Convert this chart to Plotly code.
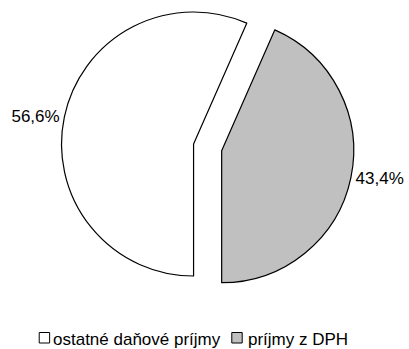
import plotly.graph_objects as go

# Share of tax revenue
categories = ["ostatné daňové príjmy", "príjmy z DPH"]
shares = [56.6, 43.4]
colors = ["#ffffff", "#c0c0c0"]

W, H = 409, 349
R = 133                      # pie radius in px
CENTER = (195, 144)          # centre of the main pie (px, from top-left)
OFFSET = (28.3, 6.7)         # displacement of the exploded VAT slice (px)
FONT = dict(family="Liberation Sans, Arial, sans-serif", size=17, color="#000000")


def domain(cx, cy):
    return dict(
        x=[(cx - R) / W, (cx + R) / W],
        y=[1 - (cy + R) / H, 1 - (cy - R) / H],
    )


fig = go.Figure()

# one trace per slice so the VAT slice can be shifted out of the pie
for i in range(len(categories)):
    cx = CENTER[0] + (OFFSET[0] if i == 1 else 0)
    cy = CENTER[1] + (OFFSET[1] if i == 1 else 0)
    fills = [colors[k] if k == i else "rgba(0,0,0,0)" for k in range(len(categories))]
    widths = [1.2 if k == i else 0 for k in range(len(categories))]
    fig.add_trace(go.Pie(
        labels=categories,
        values=shares,
        sort=False,
        direction="clockwise",
        rotation=180,
        domain=domain(cx, cy),
        marker=dict(colors=fills, line=dict(color="#000000", width=widths)),
        texttemplate=["%{percent:.1%}" if k == i else "" for k in range(len(categories))],
        textposition=["outside" if k == i else "none" for k in range(len(categories))],
        outsidetextfont=FONT,
        hoverinfo="skip",
        showlegend=False,
    ))

# legend drawn below the pie
LEG_Y = 339  # vertical middle of the legend row (px from top)
legend_items = [(39.5, 52, categories[0], colors[0]), (233.5, 249, categories[1], colors[1])]
shapes, annotations = [], []
for sx, tx, name, col in legend_items:
    shapes.append(dict(
        type="rect", xref="paper", yref="paper",
        x0=sx / W, x1=(sx + 10.5) / W,
        y0=1 - (LEG_Y + 4) / H, y1=1 - (LEG_Y - 6.5) / H,
        fillcolor=col, line=dict(color="#000000", width=1),
    ))
    annotations.append(dict(
        text=name, xref="paper", yref="paper",
        x=tx / W, y=1 - LEG_Y / H, xanchor="left", yanchor="middle",
        showarrow=False, font=FONT, borderpad=0,
    ))

fig.update_layout(
    width=W, height=H,
    margin=dict(l=0, r=0, t=0, b=0),
    paper_bgcolor="#ffffff",
    plot_bgcolor="#ffffff",
    separators=", ",
    shapes=shapes,
    annotations=annotations,
)

fig.write_html("out.html")
